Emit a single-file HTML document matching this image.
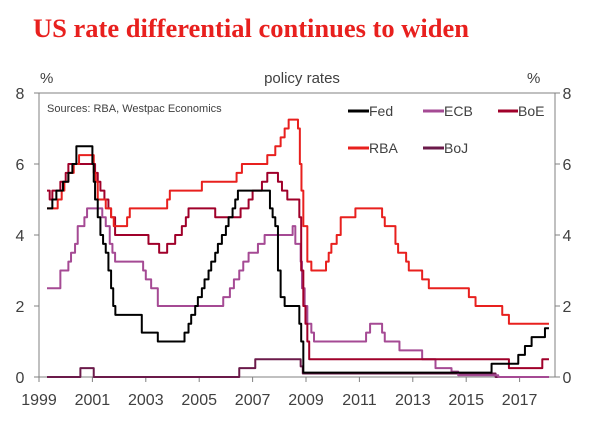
<!DOCTYPE html>
<html><head><meta charset="utf-8"><style>
body{margin:0;background:#fff;width:600px;height:437px;overflow:hidden}
svg text{font-family:"Liberation Sans",sans-serif;fill:#404040}
</style></head><body>
<svg id="chart" width="600" height="437" xmlns="http://www.w3.org/2000/svg">
<text x="33" y="37" style="font-family:'Liberation Serif',serif;font-weight:bold;font-size:26.5px;fill:#e8201e">US rate differential continues to widen</text>
<text x="40" y="83" font-size="15">%</text>
<text x="302" y="83" font-size="15" text-anchor="middle">policy rates</text>
<text x="527" y="83" font-size="15">%</text>
<text x="47" y="112" font-size="11">Sources: RBA, Westpac Economics</text>
<g id="axes"></g>
<g id="series"></g>
<g font-size="14">
<line x1="348" y1="111" x2="369" y2="111" stroke="#000" stroke-width="3"/><text x="369" y="116">Fed</text>
<line x1="423" y1="111" x2="444" y2="111" stroke="#a54a94" stroke-width="3"/><text x="444" y="116">ECB</text>
<line x1="498" y1="111" x2="518" y2="111" stroke="#a0002a" stroke-width="3"/><text x="518" y="116">BoE</text>
<line x1="348" y1="148" x2="369" y2="148" stroke="#e8201e" stroke-width="3"/><text x="369" y="153">RBA</text>
<line x1="423" y1="148" x2="444" y2="148" stroke="#6b1a4a" stroke-width="3"/><text x="444" y="153">BoJ</text>
</g>
</svg>
<script>
const yTicks=[0,2,4,6,8];
const xTicks=[1999,2001,2003,2005,2007,2009,2011,2013,2015,2017];
const fedT=[1999.3,1999.5,1999.65,1999.9,2000.1,2000.25,2000.4,2001.0,2001.05,2001.1,2001.2,2001.3,2001.4,2001.5,2001.6,2001.7,2001.78,2001.86,2002.85,2003.45,2004.45,2004.6,2004.7,2004.85,2004.95,2005.1,2005.2,2005.35,2005.45,2005.6,2005.7,2005.85,2006.0,2006.1,2006.25,2006.35,2006.45,2007.65,2007.75,2007.85,2007.95,2008.05,2008.2,2008.75,2008.82,2008.9,2015.95,2016.95,2017.2,2017.45,2017.95,2018.1];
const fedV=[4.75,5.0,5.25,5.5,5.75,6.0,6.5,6.0,5.5,5.0,4.5,4.0,3.75,3.5,3.0,2.5,2.0,1.75,1.25,1.0,1.25,1.5,1.75,2.0,2.25,2.5,2.75,3.0,3.25,3.5,3.75,4.0,4.25,4.5,4.75,5.0,5.25,4.75,4.5,4.25,3.0,2.25,2.0,1.5,1.0,0.125,0.375,0.625,0.875,1.125,1.375,1.375];
const ecbT=[1999.3,1999.8,2000.1,2000.2,2000.35,2000.45,2000.7,2000.8,2001.37,2001.5,2001.65,2001.75,2001.85,2002.9,2003.0,2003.2,2003.45,2005.9,2006.15,2006.3,2006.5,2006.65,2006.85,2007.2,2007.45,2008.5,2008.6,2008.8,2008.85,2008.95,2009.05,2009.2,2009.3,2009.4,2011.25,2011.4,2011.85,2011.95,2012.5,2013.35,2013.85,2014.45,2014.7,2016.2,2018.1];
const ecbV=[2.5,3.0,3.25,3.5,3.75,4.25,4.5,4.75,4.5,4.25,3.75,3.5,3.25,3.0,2.75,2.5,2.0,2.25,2.5,2.75,3.0,3.25,3.5,3.75,4.0,4.25,3.75,3.25,2.5,2.0,1.5,1.25,1.0,1.0,1.25,1.5,1.25,1.0,0.75,0.5,0.25,0.15,0.05,0.0,0.0];
const boeT=[1999.3,1999.4,1999.5,1999.8,2000.0,2000.1,2001.1,2001.2,2001.3,2001.45,2001.6,2001.7,2001.85,2003.1,2003.5,2003.8,2004.1,2004.35,2004.5,2004.6,2005.6,2006.55,2006.85,2007.0,2007.35,2007.55,2007.95,2008.1,2008.3,2008.75,2008.82,2008.9,2008.98,2009.05,2009.12,2016.6,2017.85,2018.1];
const boeV=[5.25,5.0,5.25,5.5,5.75,6.0,5.75,5.5,5.25,5.0,4.75,4.5,4.0,3.75,3.5,3.75,4.0,4.25,4.5,4.75,4.5,4.75,5.0,5.25,5.5,5.75,5.5,5.25,5.0,4.5,3.0,2.0,1.5,1.0,0.5,0.25,0.5,0.5];
const rbaT=[1999.3,1999.7,1999.85,1999.95,2000.1,2000.3,2000.5,2001.05,2001.12,2001.2,2001.5,2001.7,2001.8,2002.3,2002.4,2003.8,2003.9,2005.1,2006.4,2006.6,2007.55,2007.85,2008.05,2008.2,2008.35,2008.7,2008.77,2008.83,2008.9,2009.05,2009.2,2009.75,2009.85,2009.95,2010.15,2010.3,2010.85,2011.85,2011.95,2012.35,2012.45,2012.75,2012.85,2013.35,2013.6,2015.1,2015.35,2016.35,2016.6,2018.1];
const rbaV=[4.75,5.0,5.25,5.5,5.75,6.0,6.25,5.75,5.5,5.0,4.75,4.5,4.25,4.5,4.75,5.0,5.25,5.5,5.75,6.0,6.25,6.5,6.75,7.0,7.25,7.0,6.0,5.25,4.25,3.25,3.0,3.25,3.5,3.75,4.0,4.5,4.75,4.5,4.25,3.75,3.5,3.25,3.0,2.75,2.5,2.25,2.0,1.75,1.5,1.5];
const bojT=[1999.3,2000.55,2001.05,2006.5,2007.1,2008.8,2008.88,2008.95,2016.1,2018.1];
const bojV=[0.0,0.25,0.0,0.25,0.5,0.3,0.1,0.1,0.0,0.0];
const X0=39,YB=377,YT=93;
function xs(yr){return X0+(yr-1999)*26.7;}
function ys(v){return YB-(v/8)*(YB-YT);}
const NS='http://www.w3.org/2000/svg';
const axes=document.getElementById('axes'),ser=document.getElementById('series');
function mk(tag,attrs,parent){const e=document.createElementNS(NS,tag);for(const k in attrs)e.setAttribute(k,attrs[k]);parent.appendChild(e);return e;}
let f=mk('rect',{x:X0,y:YT,width:555-X0,height:YB-YT,fill:'none',stroke:'#808080','stroke-width':1},axes);


yTicks.forEach(v=>{
 let t=mk('text',{x:20,y:ys(v)+6,'font-size':16,'text-anchor':'middle'},axes);t.textContent=v;
 
 
 let t2=mk('text',{x:567,y:ys(v)+6,'font-size':16,'text-anchor':'middle'},axes);t2.textContent=v;
 
 
 mk('line',{x1:X0-5,x2:X0,y1:ys(v),y2:ys(v),stroke:'#808080'},axes);
 mk('line',{x1:555,x2:560,y1:ys(v),y2:ys(v),stroke:'#808080'},axes);
});
xTicks.forEach(yr=>{
 mk('line',{x1:xs(yr),x2:xs(yr),y1:YB,y2:YB+5,stroke:'#808080'},axes);
 let t=mk('text',{x:xs(yr),y:405,'font-size':16,'text-anchor':'middle'},axes);t.textContent=yr;
 
 
});
function step(T,V,color,name){
 let d='M'+xs(T[0])+','+ys(V[0]);
 for(let i=1;i<T.length;i++){d+=' L'+xs(T[i])+','+ys(V[i-1])+' L'+xs(T[i])+','+ys(V[i]);}
 const p=mk('path',{d:d,fill:'none',stroke:color,'stroke-width':2,'stroke-linejoin':'round'},ser);
 
 
}
step(bojT,bojV,'#6b1a4a','boj-line');
step(ecbT,ecbV,'#a54a94','ecb-line');
step(boeT,boeV,'#a0002a','boe-line');
step(rbaT,rbaV,'#e8201e','rba-line');
step(fedT,fedV,'#000000','fed-line');
</script>
</body></html>
